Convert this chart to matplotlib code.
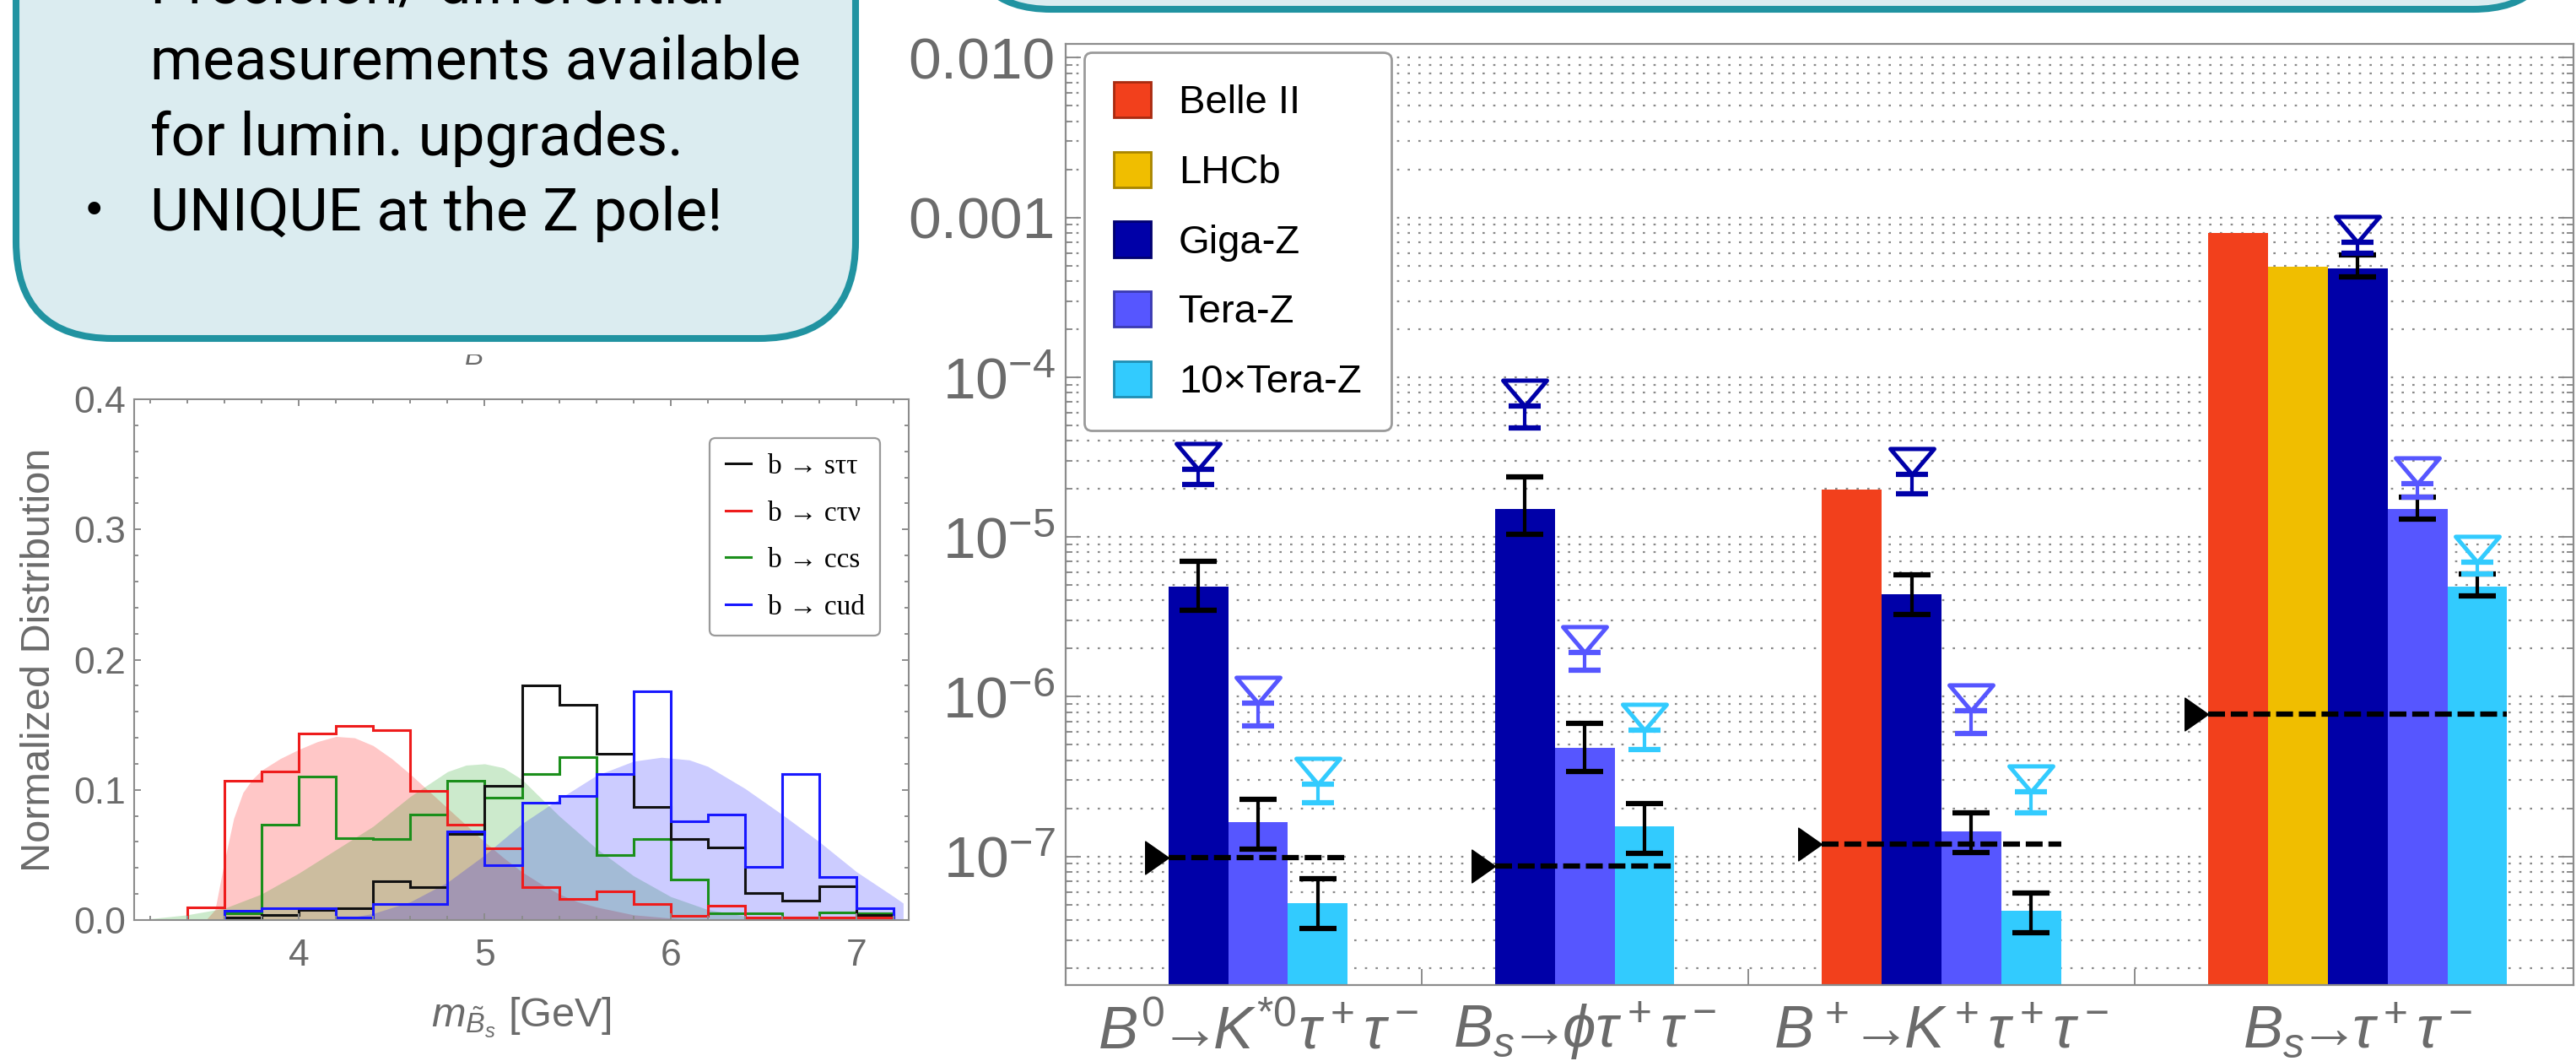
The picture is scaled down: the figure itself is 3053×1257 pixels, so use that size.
import numpy as np
import matplotlib
matplotlib.use('Agg')
import matplotlib.pyplot as plt
from matplotlib.patches import FancyBboxPatch, Patch, Rectangle
from matplotlib.lines import Line2D
from matplotlib.path import Path
from matplotlib.transforms import blended_transform_factory
from matplotlib.ticker import (FixedLocator, FixedFormatter, LogLocator,
                               MultipleLocator, NullFormatter, FormatStrFormatter)

plt.rcParams['font.family'] = ['Liberation Sans', 'DejaVu Sans']
plt.rcParams['mathtext.fontset'] = 'custom'
plt.rcParams['mathtext.rm'] = 'Liberation Sans'
plt.rcParams['mathtext.it'] = 'Liberation Sans:italic'
plt.rcParams['mathtext.bf'] = 'Liberation Sans:bold'

W, H = 3053, 1257
GREY = '#6b6b6b'
AXC = '#8c8c8c'

# ---------- left panel: m_Bs distributions
edges = [3.4, 3.6, 3.8, 4.0, 4.2, 4.4, 4.6, 4.8, 5.0, 5.2, 5.4, 5.6, 5.8, 6.0,
         6.2, 6.4, 6.6, 6.8, 7.0, 7.2]
h_ctnu = [0.010, 0.107, 0.114, 0.143, 0.149, 0.146, 0.099, 0.073, 0.055, 0.025,
          0.016, 0.022, 0.012, 0.003, 0.011, 0.002, 0.002, 0.002, 0.002]  # from 3.4
h_stt = [0.002, 0.004, 0.008, 0.009, 0.030, 0.025, 0.066, 0.103, 0.180, 0.165,
         0.128, 0.087, 0.062, 0.056, 0.021, 0.015, 0.026, 0.004]  # from 3.6
h_ccs = [0.005, 0.073, 0.110, 0.063, 0.062, 0.081, 0.107, 0.094, 0.112, 0.125,
         0.050, 0.062, 0.031, 0.005, 0.005, 0.002, 0.006, 0.005]
h_cud = [0.007, 0.009, 0.009, 0.002, 0.012, 0.012, 0.068, 0.042, 0.090, 0.095,
         0.112, 0.176, 0.076, 0.081, 0.041, 0.112, 0.033, 0.009]

red_x = [3.5, 3.55, 3.6, 3.65, 3.7, 3.75, 3.8, 3.9, 4.0, 4.1, 4.2, 4.3, 4.4, 4.5,
         4.6, 4.7, 4.8, 4.9, 5.0, 5.1, 5.2, 5.3, 5.4, 5.5, 5.6, 5.8, 6.0, 6.2]
red_y = [0.0, 0.008, 0.045, 0.078, 0.098, 0.108, 0.115, 0.124, 0.131, 0.137, 0.141,
         0.140, 0.134, 0.124, 0.112, 0.099, 0.086, 0.073, 0.060, 0.048, 0.037,
         0.028, 0.020, 0.014, 0.010, 0.004, 0.0015, 0.0]
green_x = [3.15, 3.2, 3.4, 3.6, 3.8, 4.0, 4.2, 4.4, 4.6, 4.8, 4.9, 5.0, 5.1, 5.2,
           5.4, 5.6, 5.8, 6.0, 6.2, 6.4, 6.6, 6.8]
green_y = [0.0, 0.001, 0.004, 0.009, 0.020, 0.036, 0.054, 0.072, 0.095, 0.114,
           0.119, 0.120, 0.117, 0.108, 0.080, 0.055, 0.034, 0.018, 0.008, 0.003,
           0.001, 0.0]
blue_x = [4.2, 4.4, 4.6, 4.8, 5.0, 5.2, 5.4, 5.6, 5.8, 5.95, 6.1, 6.2, 6.4, 6.6,
          6.8, 7.0, 7.2, 7.25]
blue_y = [0.0, 0.005, 0.014, 0.029, 0.050, 0.074, 0.093, 0.111, 0.122, 0.125,
          0.123, 0.118, 0.101, 0.081, 0.060, 0.037, 0.018, 0.013]

hist_labels = ['b → sττ', 'b → cτν', 'b → ccs', 'b → cud']
hist_colors = ['#111111', '#ee1c1c', '#1b8f1b', '#1818ff']

# ---------- right panel: branching ratios
exp_names = ['Belle II', 'LHCb', 'Giga-Z', 'Tera-Z', '10×Tera-Z']
exp_colors = ['#f2401c', '#f0be00', '#0000a8', '#5656ff', '#32cbfe']
exp_edges = ['#a82a10', '#a88500', '#000070', '#3a3ab0', '#1f8eb3']
group_names = [r'$B^0\!\!\rightarrow\!\! K^{*0}\tau^+\tau^-$',
               r'$B_s\!\!\rightarrow\!\!\phi\tau^+\tau^-$',
               r'$B^+\!\!\rightarrow\!\! K^+\tau^+\tau^-$',
               r'$B_s\!\!\rightarrow\!\!\tau^+\tau^-$']
group_exps = [[2, 3, 4], [2, 3, 4], [0, 2, 3, 4], [0, 1, 2, 3, 4]]
bar_vals = [[4.9e-6, 1.63e-7, 5.0e-8],
            [1.5e-5, 4.8e-7, 1.53e-7],
            [1.97e-5, 4.4e-6, 1.42e-7, 4.47e-8],
            [8.0e-4, 4.92e-4, 4.81e-4, 1.5e-5, 4.91e-6]]
bar_lo = [[3.47e-6, 1.11e-7, 3.52e-8],
          [1.04e-5, 3.39e-7, 1.05e-7],
          [None, 3.28e-6, 1.06e-7, 3.33e-8],
          [None, None, 4.25e-4, 1.29e-5, 4.28e-6]]
bar_hi = [[7.0e-6, 2.28e-7, 7.26e-8],
          [2.37e-5, 6.78e-7, 2.13e-7],
          [None, 5.81e-6, 1.87e-7, 5.89e-8],
          [None, None, 5.8e-4, 1.77e-5, 5.86e-6]]
lim_lo = [[2.14e-5, 6.6e-7, 2.18e-7],
          [4.8e-5, 1.47e-6, 4.68e-7],
          [None, 1.87e-5, 5.9e-7, 1.87e-7],
          [None, None, 5.97e-4, 1.77e-5, 5.86e-6]]
lim_hi = [[2.66e-5, 9.1e-7, 2.84e-7],
          [6.6e-5, 1.89e-6, 6.2e-7],
          [None, 2.48e-5, 8.17e-7, 2.54e-7],
          [None, None, 7.0e-4, 2.15e-5, 6.98e-6]]
sm_pred = [9.8e-8, 8.67e-8, 1.19e-7, 7.78e-7]
ytick_vals = [1e-7, 1e-6, 1e-5, 1e-4, 1e-3, 1e-2]
ytick_labels = [r'$10^{-7}$', r'$10^{-6}$', r'$10^{-5}$', r'$10^{-4}$', '0.001', '0.010']

box_lines = ['Precision/ differential', 'measurements available',
             'for lumin. upgrades.', 'UNIQUE at the Z pole!']

fig = plt.figure(figsize=(W / 100, H / 100), dpi=100)


def px_axes(x0, y0, x1, y1):
    return fig.add_axes([x0 / W, 1 - y1 / H, (x1 - x0) / W, (y1 - y0) / H])


# ---------------- histogram
ax1 = px_axes(159, 473, 1077, 1090)
ax1.fill_between(red_x, red_y, color=(1, 0, 0), alpha=0.22, lw=0)
ax1.fill_between(green_x, green_y, color=(0, 0.6, 0), alpha=0.2, lw=0)
ax1.fill_between(blue_x, blue_y, color=(0, 0, 1), alpha=0.2, lw=0)
ax1.stairs(h_ccs, edges[1:], color=hist_colors[2], lw=2.2)
ax1.stairs(h_ctnu, edges, color=hist_colors[1], lw=2.2)
ax1.stairs(h_stt, edges[1:], color=hist_colors[0], lw=2.2)
ax1.stairs(h_cud, edges[1:], color=hist_colors[3], lw=2.2)
ax1.set_xlim(3.115, 7.28)
ax1.set_ylim(0, 0.4)
ax1.xaxis.set_major_locator(MultipleLocator(1))
ax1.xaxis.set_minor_locator(MultipleLocator(0.2))
ax1.yaxis.set_major_locator(MultipleLocator(0.1))
ax1.yaxis.set_minor_locator(MultipleLocator(0.02))
ax1.yaxis.set_major_formatter(FormatStrFormatter('%.1f'))
ax1.tick_params(which='both', direction='in', top=True, right=True, color=AXC,
                width=1.4, labelsize=32, labelcolor=GREY)
ax1.tick_params(which='major', length=6)
ax1.tick_params(which='minor', length=3.5)
ax1.tick_params(axis='x', pad=16)
ax1.tick_params(axis='y', pad=7)
for s in ax1.spines.values():
    s.set_color(AXC)
    s.set_linewidth(1.5)
ax1.set_xlabel(r'$m_{\tilde{B}_s}$ [GeV]', fontsize=35, color=GREY)
ax1.xaxis.set_label_coords(0.5, -0.146)
ax1.set_ylabel('Normalized Distribution', fontsize=35, color=GREY)
ax1.yaxis.set_label_coords(-0.098, 0.5)
hl = [Line2D([], [], color=c, lw=2.2) for c in hist_colors]
leg1 = ax1.legend(hl, hist_labels, loc='upper right', bbox_to_anchor=(0.963, 0.925),
                  borderaxespad=0, prop={'family': ['Liberation Serif', 'DejaVu Serif'], 'size': 24},
                  handlelength=0.9, handletextpad=0.6, labelspacing=0.75, borderpad=0.55,
                  fancybox=True, edgecolor='#9a9a9a', framealpha=1)
leg1.get_frame().set_linewidth(1.6)

# ---------------- bar chart
ax2 = px_axes(1263, 52, 3050, 1167)
ax2.set_yscale('log')
ax2.set_ylim(1.565e-8, 1.222e-2)
ax2.set_xlim(-2.22, 23.02)

GAP = 3.47
tri_down = Path([(-0.85, 1.0), (0.85, 1.0), (0.0, 0.0), (-0.85, 1.0)],
                [Path.MOVETO, Path.LINETO, Path.LINETO, Path.CLOSEPOLY])
tri_right = Path([(-1.0, 0.7), (0.0, 0.0), (-1.0, -0.7), (-1.0, 0.7)],
                 [Path.MOVETO, Path.LINETO, Path.LINETO, Path.CLOSEPOLY])

start = 0.0
centers, seps, group_mid = [], [], []
for g, exps in enumerate(group_exps):
    xs = start + np.arange(len(exps))
    centers.extend(xs)
    group_mid.append(xs.mean())
    for i, e in enumerate(exps):
        v = bar_vals[g][i]
        ax2.bar(xs[i], v, width=1.0, bottom=1e-9, color=exp_colors[e], lw=0, zorder=2)
        if bar_lo[g][i] is not None:
            ax2.errorbar(xs[i], v, yerr=[[v - bar_lo[g][i]], [bar_hi[g][i] - v]],
                         fmt='none', ecolor='k', elinewidth=3, capsize=16, capthick=4.5,
                         zorder=4)
        if lim_lo[g][i] is not None:
            hi = lim_hi[g][i]
            ax2.errorbar(xs[i], hi, yerr=[[hi - lim_lo[g][i]], [0]], fmt='none',
                         ecolor=exp_colors[e], elinewidth=3, capsize=14, capthick=4.5,
                         zorder=5)
            ax2.plot(xs[i], hi, marker=tri_down, ms=44, mfc='none',
                     mec=exp_colors[e], mew=3.6, zorder=5)
    x0, x1 = xs[0] - 0.5, xs[-1] + 0.5
    ax2.plot([x0, x1], [sm_pred[g], sm_pred[g]], color='k', lw=4.5,
             ls=(0, (3.2, 1.1)), zorder=6)
    ax2.plot(x0, sm_pred[g], marker=tri_right, ms=40, color='k', zorder=6)
    if g < len(group_exps) - 1:
        nxt = xs[-1] + GAP
        seps.append((xs[-1] + nxt) / 2)
        start = nxt

ax2.yaxis.set_major_locator(FixedLocator(ytick_vals))
ax2.yaxis.set_major_formatter(FixedFormatter(ytick_labels))
ax2.yaxis.set_minor_locator(LogLocator(base=10, subs=np.arange(2, 10), numticks=100))
ax2.yaxis.set_minor_formatter(NullFormatter())
ax2.set_xticks(seps)
ax2.set_xticks(centers, minor=True)
ax2.tick_params(axis='x', which='both', labelbottom=False, direction='in', color=AXC, width=1.4)
ax2.tick_params(axis='x', which='major', length=14)
ax2.tick_params(axis='x', which='minor', length=7)
ax2.tick_params(axis='y', which='both', direction='in', left=True, right=True,
                color=AXC, width=1.4, labelsize=50, labelcolor=GREY, pad=9)
ax2.tick_params(axis='y', which='major', length=13)
ax2.tick_params(axis='y', which='minor', length=6)
ax2.set_axisbelow(True)
ax2.yaxis.grid(True, which='both', color='#8a8a8a', lw=1.6, ls=(0, (1.2, 4.5)))
for s in ax2.spines.values():
    s.set_color(AXC)
    s.set_linewidth(1.6)

tr = blended_transform_factory(ax2.transData, ax2.transAxes)
for gx, name in zip(group_mid, group_names):
    ax2.text(gx, -0.0673, name, transform=tr, ha='center', va='baseline',
             fontsize=51, color=GREY)

handles = [Patch(facecolor=c, edgecolor=e, lw=2) for c, e in zip(exp_colors, exp_edges)]
leg2 = ax2.legend(handles, exp_names, loc='upper left', bbox_to_anchor=(0.0123, 0.991),
                  borderaxespad=0, fontsize=34, handlelength=0.93, handleheight=1.0,
                  handletextpad=0.7, labelspacing=0.75, borderpad=0.74,
                  fancybox=True, edgecolor='#9a9a9a', framealpha=1)
leg2.get_frame().set_linewidth(2)
leg2.set_zorder(10)

# ---------------- slide overlay: text boxes
ov = fig.add_axes([0, 0, 1, 1], zorder=20)
ov.set_xlim(0, W)
ov.set_ylim(H, 0)
ov.axis('off')
ov.patch.set_alpha(0)

ov.text(562, 432, 'B', fontsize=24, color=GREY, ha='center', va='baseline',
        style='italic', zorder=1)
ov.add_patch(Rectangle((535, 407), 60, 13, fc='white', ec='none', zorder=2))

ov.add_patch(FancyBboxPatch((19, -400), 995, 801,
                            boxstyle='round,pad=0,rounding_size=115',
                            fc='#dbecf0', ec='#2193a1', lw=5.8, zorder=3))
ov.add_patch(FancyBboxPatch((1146, -400), 1885, 411,
                            boxstyle='round,pad=0,rounding_size=100',
                            fc='#dbecf0', ec='#2193a1', lw=5.8, zorder=3))

box_font = ['Roboto', 'Noto Sans CJK SC', 'DejaVu Sans']
for txt, base in zip(box_lines, [4, 93, 183, 273]):
    ov.text(178, base, txt, fontsize=51, family=box_font,
            color='black', va='baseline', ha='left', zorder=4)
ov.text(77, 273, '•', fontsize=50, family=['Noto Sans CJK SC', 'DejaVu Sans'],
        color='black', va='baseline', ha='left', zorder=4)

fig.savefig('out.png', dpi=100)
